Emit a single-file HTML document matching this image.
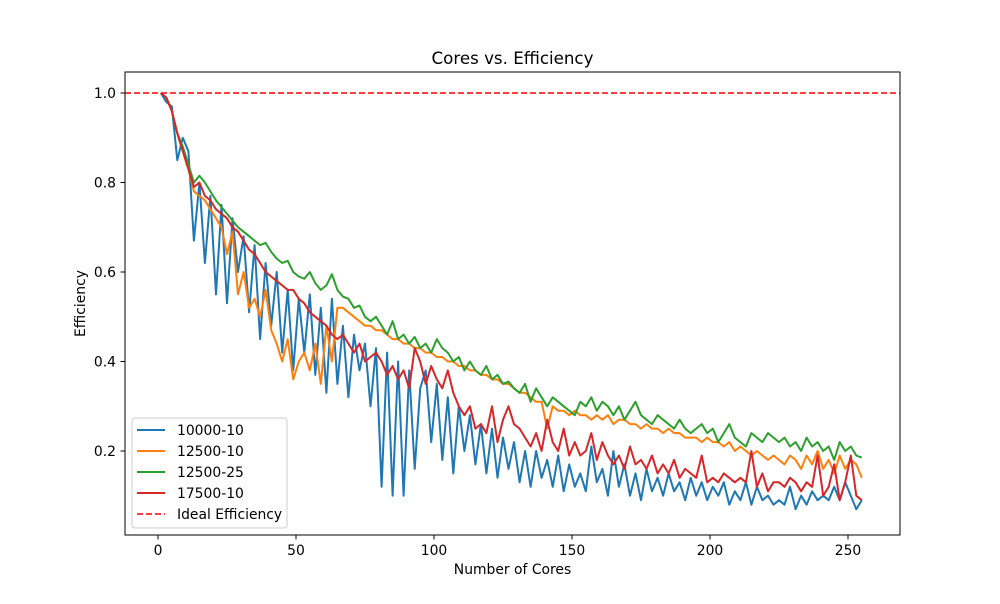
<!DOCTYPE html>
<html><head><meta charset="utf-8"><style>
body{margin:0;background:#fff;font-family:"DejaVu Sans","Liberation Sans",sans-serif;}
svg text{font-family:"DejaVu Sans","Liberation Sans",sans-serif;}
</style></head><body>
<svg id="chart" width="1000" height="600" xmlns="http://www.w3.org/2000/svg">
<rect width="1000" height="600" fill="#fff"/>
<text x="512.5" y="64" font-size="16.67" text-anchor="middle">Cores vs. Efficiency</text>
<g id="grid"></g>
<g id="plot"></g>
<rect x="125" y="72" width="775" height="463" fill="none" stroke="#000" stroke-width="1"/>
<text x="512.5" y="574" font-size="13.9" text-anchor="middle">Number of Cores</text>
<text x="85" y="303.5" font-size="13.9" text-anchor="middle" transform="rotate(-90 85 303.5)">Efficiency</text>
<g id="legend">
<rect x="132" y="418" width="155" height="110" rx="3" fill="#fff" fill-opacity="0.8" stroke="#ccc"/>
</g>
</svg>
<script>
const seriesNames=["10000-10","12500-10","12500-25","17500-10"];
const seriesColors=["#1f77b4","#ff7f0e","#2ca02c","#d62728"];
const xTicks=[0,50,100,150,200,250];
const yTicks=[0.2,0.4,0.6,0.8,1.0];
const idealEfficiency=1.0;
const cores=[];for(let c=1;c<=255;c+=2)cores.push(c);
const blue=[1.0,0.98,0.97,0.85,0.90,0.87,0.67,0.80,
0.62,0.77,0.55,0.75,0.53,0.72,0.60,0.68,
0.51,0.66,0.45,0.62,0.48,0.60,0.42,0.56,
0.38,0.54,0.42,0.55,0.37,0.52,0.33,0.54,
0.35,0.48,0.32,0.46,0.38,0.44,0.30,0.43,
0.12,0.42,0.10,0.40,0.10,0.38,0.16,0.34,
0.38,0.22,0.35,0.18,0.32,0.15,0.30,0.20,
0.28,0.17,0.26,0.15,0.25,0.14,0.23,0.16,
0.22,0.13,0.20,0.12,0.20,0.14,0.18,0.12,
0.19,0.11,0.17,0.12,0.15,0.11,0.21,0.13,
0.16,0.10,0.20,0.12,0.17,0.10,0.15,0.09,
0.16,0.11,0.14,0.10,0.15,0.11,0.13,0.09,
0.14,0.10,0.13,0.09,0.12,0.10,0.13,0.08,
0.11,0.09,0.13,0.08,0.12,0.09,0.10,0.08,
0.09,0.08,0.12,0.07,0.10,0.08,0.11,0.09,
0.10,0.09,0.12,0.09,0.13,0.10,0.07,0.09];
const orange=[1.0,0.99,0.96,0.91,0.87,0.83,0.78,0.77,
0.76,0.74,0.72,0.70,0.64,0.69,0.55,0.60,
0.52,0.54,0.50,0.56,0.47,0.44,0.40,0.45,
0.36,0.40,0.42,0.38,0.44,0.35,0.48,0.40,
0.52,0.52,0.51,0.50,0.49,0.48,0.48,0.47,
0.47,0.46,0.45,0.45,0.44,0.44,0.43,0.43,
0.42,0.42,0.41,0.41,0.40,0.40,0.39,0.39,
0.38,0.38,0.37,0.37,0.36,0.36,0.35,0.35,
0.34,0.33,0.33,0.32,0.31,0.31,0.25,0.30,
0.29,0.29,0.28,0.29,0.28,0.28,0.27,0.28,
0.27,0.28,0.26,0.27,0.27,0.26,0.26,0.25,
0.26,0.25,0.25,0.24,0.25,0.24,0.24,0.23,
0.23,0.23,0.22,0.23,0.22,0.22,0.21,0.22,
0.20,0.21,0.20,0.19,0.20,0.19,0.18,0.19,
0.18,0.17,0.19,0.18,0.16,0.19,0.17,0.20,
0.16,0.18,0.15,0.19,0.16,0.18,0.17,0.14];
const green=[1.0,0.99,0.96,0.91,0.88,0.84,0.80,0.815,
0.80,0.78,0.76,0.745,0.73,0.715,0.70,0.69,
0.68,0.67,0.66,0.665,0.645,0.63,0.62,0.625,
0.60,0.59,0.585,0.60,0.575,0.56,0.57,0.595,
0.56,0.545,0.54,0.52,0.525,0.50,0.49,0.50,
0.48,0.46,0.49,0.45,0.46,0.44,0.455,0.43,
0.44,0.42,0.45,0.43,0.42,0.40,0.41,0.38,
0.40,0.38,0.37,0.39,0.36,0.37,0.35,0.355,
0.34,0.33,0.35,0.31,0.34,0.32,0.30,0.32,
0.31,0.30,0.29,0.28,0.31,0.30,0.32,0.29,
0.31,0.30,0.28,0.30,0.27,0.29,0.31,0.28,
0.27,0.26,0.28,0.27,0.26,0.25,0.27,0.25,
0.24,0.25,0.26,0.24,0.25,0.22,0.24,0.26,
0.23,0.22,0.21,0.24,0.23,0.22,0.24,0.23,
0.22,0.23,0.21,0.22,0.20,0.23,0.21,0.22,
0.20,0.21,0.18,0.22,0.20,0.21,0.19,0.185];
const red=[1.0,0.99,0.96,0.91,0.87,0.83,0.79,0.80,
0.77,0.76,0.74,0.73,0.72,0.70,0.69,0.67,
0.65,0.64,0.62,0.60,0.59,0.58,0.57,0.56,
0.56,0.54,0.53,0.51,0.50,0.49,0.48,0.46,
0.45,0.46,0.44,0.42,0.44,0.40,0.41,0.42,
0.40,0.37,0.39,0.36,0.38,0.34,0.43,0.40,
0.35,0.39,0.36,0.34,0.38,0.33,0.30,0.28,
0.30,0.25,0.26,0.24,0.30,0.22,0.27,0.30,
0.26,0.25,0.23,0.21,0.24,0.20,0.27,0.22,
0.20,0.25,0.19,0.22,0.19,0.20,0.24,0.18,
0.22,0.19,0.17,0.19,0.16,0.21,0.17,0.18,
0.16,0.19,0.15,0.17,0.15,0.18,0.14,0.16,
0.15,0.14,0.19,0.13,0.14,0.13,0.15,0.14,
0.13,0.14,0.13,0.20,0.12,0.15,0.11,0.13,
0.13,0.12,0.14,0.13,0.11,0.13,0.12,0.19,
0.10,0.12,0.17,0.09,0.13,0.19,0.10,0.09];
const seriesValues=[blue,orange,green,red];

const NS="http://www.w3.org/2000/svg";
function xs(v){return 158+v*(848-158)/250;}
function ys(v){return 93+(1.0-v)*(451-93)/0.8;}
const plot=document.getElementById('plot');
const grid=document.getElementById('grid');
function mk(tag,attrs,parent){const e=document.createElementNS(NS,tag);for(const k in attrs)e.setAttribute(k,attrs[k]);parent.appendChild(e);return e;}

xTicks.forEach(t=>{
  const g=mk('g',{},grid);
  
  
  mk('line',{x1:xs(t),x2:xs(t),y1:535,y2:539.5,stroke:'#000'},g);
  const tx=mk('text',{x:xs(t),y:555,'font-size':13.9,'text-anchor':'middle'},g);tx.textContent=t;
});
yTicks.forEach(t=>{
  const g=mk('g',{},grid);
  
  
  mk('line',{x1:120.5,x2:125,y1:ys(t),y2:ys(t),stroke:'#000'},g);
  const tx=mk('text',{x:116,y:ys(t)+5,'font-size':13.9,'text-anchor':'end'},g);tx.textContent=t.toFixed(1);
});

seriesValues.forEach((vals,si)=>{
  const d=vals.map((v,i)=>(i?'L':'M')+xs(cores[i]).toFixed(1)+' '+ys(v).toFixed(1)).join(' ');
  const p=mk('path',{d:d,fill:'none',stroke:seriesColors[si],'stroke-width':2,'stroke-linejoin':'round'},plot);
  
  
});
const ideal=mk('line',{x1:125,x2:900,y1:ys(idealEfficiency),y2:ys(idealEfficiency),stroke:'#ff0000','stroke-width':1.6,'stroke-dasharray':'6,3'},plot);



const legend=document.getElementById('legend');
const labels=seriesNames.concat(['Ideal Efficiency']);
labels.forEach((lab,i)=>{
  const y=430+i*21;
  const g=mk('g',{},legend);
  
  
  if(i<4) mk('line',{x1:137,x2:165,y1:y,y2:y,stroke:seriesColors[i],'stroke-width':2},g);
  else mk('line',{x1:137,x2:165,y1:y,y2:y,stroke:'#ff0000','stroke-width':1.6,'stroke-dasharray':'6,3'},g);
  const t=mk('text',{x:177,y:y+5,'font-size':13.9},g);t.textContent=lab;
});
</script>
</body></html>
